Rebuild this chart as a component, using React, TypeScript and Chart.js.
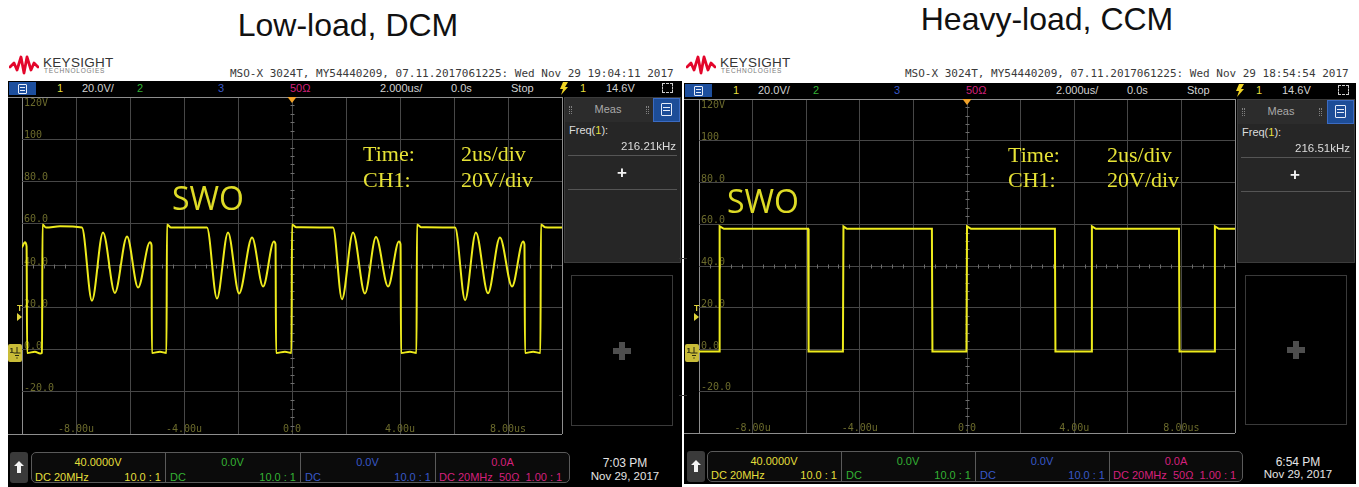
import React, { useEffect, useRef } from "react";
import { Chart, registerables } from "chart.js";

Chart.register(...registerables);

// ================= DATA =================
const timeTickValues = [-8, -4, 0, 4, 8];
const timeTickLabels = ["-8.00u", "-4.00u", "0.0", "4.00u", "8.00us"];
const voltTickValues = [120, 100, 80, 60, 40, 20, 0, -20];
const voltTickLabels = ["120V", "100", "80.0", "60.0", "40.0", "20.0", "0.0", "-20.0"];

// Low-load, DCM : SWO node, time in us, voltage in V
const dcmTimeUs = [
  -10.0, -9.89, -9.83, -9.81, -9.52, -9.33, -9.26, -9.24, -9.11, -8.59, -7.78,
  -7.41, -7.0, -6.56, -6.11, -5.7, -5.26, -5.2, -5.19, -4.89, -4.65, -4.63,
  -4.48, -3.15, -2.78, -2.37, -1.96, -1.48, -1.07, -0.67, -0.61, -0.59, -0.26,
  -0.02, 0.0, 0.15, 1.52, 1.85, 2.26, 2.7, 3.11, 3.56, 3.96, 4.02, 4.04, 4.37,
  4.61, 4.63, 4.78, 6.04, 6.41, 6.81, 7.26, 7.7, 8.15, 8.56, 8.61, 8.63, 8.93,
  9.2, 9.22, 9.37, 10.0,
];
const dcmVolts = [
  48.5, 51.0, 49.0, -1.5, -1.0, -1.8, -1.5, 59.5, 58.0, 58.6, 58.0,
  23.3, 55.7, 27.0, 53.8, 29.5, 51.0, 49.5, -1.5, -1.0, -1.5, 59.5,
  58.0, 58.0, 24.3, 55.7, 26.7, 53.3, 30.0, 51.4, 50.0, -1.5, -1.0,
  -1.5, 59.5, 58.2, 58.0, 24.0, 55.7, 26.7, 53.5, 30.0, 51.4, 50.0, -1.5, -1.0,
  -1.5, 59.5, 58.2, 58.0, 23.5, 55.7, 26.8, 53.3, 30.0, 51.4, 50.0, -1.5, -1.0,
  -1.5, 59.5, 58.2, 58.0,
];

// Heavy-load, CCM
const ccmTimeUs = [
  -10.0, -9.25, -9.23, -9.07, -5.93, -5.91, -4.63, -4.61, -4.48, -1.31, -1.29,
  -0.02, 0.0, 0.15, 3.28, 3.3, 4.64, 4.66, 4.81, 7.91, 7.93, 9.24, 9.25, 9.4, 10.0,
];
const ccmVolts = [
  -1.0, -1.0, 59.0, 57.8, 57.8, -1.0, -1.0, 59.0, 57.8, 57.8, -1.0,
  -1.0, 59.0, 57.8, 57.8, -1.0, -1.0, 59.0, 57.8, 57.8, -1.0, -1.0, 59.0, 57.8, 57.8,
];

// ================= STYLE HELPERS =================
const SANS = '"Liberation Sans", Arial, sans-serif';
const SERIF = '"Liberation Serif", "Times New Roman", serif';
const MONO = '"DejaVu Sans Mono", monospace';
const OPEN = '"Open Sans", sans-serif';
const KB: Record<string, number> = { sans: 0.8465, serif: 0.8375, mono: 0.846, open: 0.888 };
const FAM: Record<string, string> = { sans: SANS, serif: SERIF, mono: MONO, open: OPEN };

function Txt({ x, b, s, c = "#fff", f = "sans", a = "left", w = 400, ls, children }: any) {
  const tx = a === "center" ? "translateX(-50%)" : a === "right" ? "translateX(-100%)" : undefined;
  return (
    <div
      style={{
        position: "absolute",
        left: x,
        top: b - KB[f] * s,
        fontSize: s,
        lineHeight: `${s}px`,
        fontFamily: FAM[f],
        color: c,
        fontWeight: w,
        whiteSpace: "pre",
        transform: tx,
        letterSpacing: ls,
      }}
    >
      {children}
    </div>
  );
}

function Box({ x, y, w, h, st }: any) {
  return <div style={{ position: "absolute", left: x, top: y, width: w, height: h, boxSizing: "border-box", ...st }} />;
}

// ================= CHART =================
const scopeDecor = {
  id: "scopeDecor",
  beforeDatasetsDraw(chart: any) {
    const { ctx, chartArea: ca, scales } = chart;
    const xs = scales.x;
    const ys = scales.y;
    ctx.save();
    ctx.strokeStyle = "#6e6e6e";
    ctx.lineWidth = 1;
    const yc = Math.round(ys.getPixelForValue(40)) + 0.5;
    const xc = Math.round(xs.getPixelForValue(0)) + 0.5;
    ctx.beginPath();
    for (let k = -25; k <= 25; k++) {
      if (k % 5 === 0) continue;
      const px = Math.round(xs.getPixelForValue(k * 0.4)) + 0.5;
      ctx.moveTo(px, yc - 2);
      ctx.lineTo(px, yc + 2);
    }
    for (let k = -10; k <= 30; k++) {
      if (k % 5 === 0) continue;
      const py = Math.round(ys.getPixelForValue(k * 4)) + 0.5;
      ctx.moveTo(xc - 2, py);
      ctx.lineTo(xc + 2, py);
    }
    ctx.stroke();

    ctx.fillStyle = "#6c6b2c";
    ctx.font = '10px "DejaVu Sans Mono"';
    ctx.textAlign = "left";
    voltTickValues.forEach((v, i) => {
      const py = ys.getPixelForValue(v);
      if (v === ys.max) {
        ctx.textBaseline = "top";
        ctx.fillText(voltTickLabels[i], ca.left + 2, py + 1);
      } else {
        ctx.textBaseline = "alphabetic";
        ctx.fillText(voltTickLabels[i], ca.left + 2, py - 1);
      }
    });
    ctx.textAlign = "center";
    ctx.textBaseline = "alphabetic";
    timeTickValues.forEach((t, i) => {
      ctx.fillText(timeTickLabels[i], xs.getPixelForValue(t), ca.bottom - 2);
    });
    ctx.restore();
  },
  afterDraw(chart: any) {
    const { ctx, chartArea: ca, scales } = chart;
    const x0 = scales.x.getPixelForValue(0);
    ctx.save();
    ctx.fillStyle = "#f0a22a";
    ctx.beginPath();
    ctx.moveTo(x0 - 4.5, ca.top);
    ctx.lineTo(x0 + 4.5, ca.top);
    ctx.lineTo(x0, ca.top + 6);
    ctx.closePath();
    ctx.fill();
    ctx.restore();
  },
};

function ScopeChart({ g, times, volts, smooth }: any) {
  const ref = useRef<HTMLCanvasElement>(null);
  useEffect(() => {
    const edgeColor = (edges: number[]) => (c: any) =>
      c.tick && edges.includes(c.tick.value) ? "#8e8e8e" : "#474747";
    const chart = new Chart(ref.current as HTMLCanvasElement, {
      type: "line",
      data: {
        datasets: [
          {
            data: times.map((t: number, i: number) => ({ x: t, y: volts[i] })),
            borderColor: "#eeeb1c",
            borderWidth: 2,
            pointRadius: 0,
            tension: 0,
            cubicInterpolationMode: smooth ? "monotone" : "default",
            fill: false,
          } as any,
        ],
      },
      options: {
        responsive: false,
        animation: false,
        events: [],
        layout: { padding: 1 },
        plugins: { legend: { display: false }, tooltip: { enabled: false } },
        scales: {
          x: {
            type: "linear",
            min: -10,
            max: 10,
            ticks: { display: false, stepSize: 2 },
            grid: { color: edgeColor([-10, 10]), drawTicks: false, lineWidth: 1 },
            border: { display: false },
          },
          y: {
            type: "linear",
            min: -40,
            max: 120,
            ticks: { display: false, stepSize: 20 },
            grid: { color: edgeColor([-40, 120]), drawTicks: false, lineWidth: 1 },
            border: { display: false },
          },
        },
      },
      plugins: [scopeDecor],
    });
    return () => chart.destroy();
  }, []);
  return (
    <canvas
      ref={ref}
      width={g.w + 2}
      height={g.h + 2}
      style={{ position: "absolute", left: g.x - 1, top: g.y - 1, width: g.w + 2, height: g.h + 2, display: "block" }}
    />
  );
}

// ================= PANEL LAYOUT =================
const LEFT = {
  title: "Low-load, DCM",
  titleCx: 348,
  titleBase: 36,
  header: "MSO-X 3024T, MY54440209, 07.11.2017061225: Wed Nov 29 19:04:11 2017",
  headerX: 230,
  logoX: 9,
  scopeL: 8,
  scopeR: 682,
  barTop: 81,
  bodyBottom: 487,
  grid: { x: 22, y: 97, w: 540, h: 337 },
  meas: { x: 564, y: 97, w: 117, h: 166 },
  measBox: { x: 571, y: 275, w: 102, h: 151 },
  freq: "216.21kHz",
  botY: 452,
  arrowX: 10,
  secs: [31, 165, 300, 435, 570],
  clockCx: 625,
  clockTime: "7:03 PM",
  rowB1: 466,
  rowB2: 481,
  swo: { x: 172, b: 210 },
  timeX: 363,
  valX: 461,
  timeB: 161,
  chB: 187,
  mk: 8,
  times: dcmTimeUs,
  volts: dcmVolts,
  smooth: true,
};

const RIGHT = {
  title: "Heavy-load, CCM",
  titleCx: 1047,
  titleBase: 30,
  header: "MSO-X 3024T, MY54440209, 07.11.2017061225: Wed Nov 29 18:54:54 2017",
  headerX: 905,
  logoX: 686,
  scopeL: 684,
  scopeR: 1356,
  barTop: 83,
  bodyBottom: 484,
  grid: { x: 699, y: 99, w: 536, h: 334 },
  meas: { x: 1237, y: 99, w: 118, h: 164 },
  measBox: { x: 1245, y: 275, w: 102, h: 150 },
  freq: "216.51kHz",
  botY: 451,
  arrowX: 687,
  secs: [707, 841, 975, 1109, 1243],
  clockCx: 1298,
  clockTime: "6:54 PM",
  rowB1: 465,
  rowB2: 479,
  swo: { x: 727, b: 213 },
  timeX: 1008,
  valX: 1107,
  timeB: 162,
  chB: 187,
  mk: 685,
  times: ccmTimeUs,
  volts: ccmVolts,
  smooth: false,
};

const YEL = "#e4df3c";
const GRN = "#34b234";
const BLU = "#3858c8";
const MAG = "#d4207c";
const LIGHT = "#d2d2d2";

function Logo({ x }: any) {
  return (
    <>
      <svg style={{ position: "absolute", left: x, top: 55 }} width={30} height={20} viewBox="0 0 30 20">
        <polyline
          points="1,12 5,8 8,15 12,2 15,18 18,2 22,15 25,8 29,12"
          fill="none"
          stroke="#e3062b"
          strokeWidth={2.8}
          strokeLinejoin="round"
          strokeLinecap="round"
        />
      </svg>
      <Txt x={x + 34} b={67} s={13.5} c="#353535" ls={0.3}>KEYSIGHT</Txt>
      <Txt x={x + 35} b={73.5} s={6.5} c="#7a7a7a" ls={0.8}>TECHNOLOGIES</Txt>
    </>
  );
}

function Panel({ p }: any) {
  const L = p.scopeL;
  const bb = p.barTop + 11;
  const m = p.meas;
  const mb = p.measBox;
  const g = p.grid;
  const s = p.secs;
  const secCenter = (i: number) => (s[i] + s[i + 1]) / 2;
  const secColors = [YEL, GRN, BLU, MAG];
  const topTexts = ["40.0000V", "0.0V", "0.0V", "0.0A"];
  return (
    <>
      <Txt x={p.titleCx} b={p.titleBase} s={32} c="#111" a="center">{p.title}</Txt>
      <Logo x={p.logoX} />
      <Txt x={p.headerX} b={77} s={11} c="#3a3a3a" f="mono">{p.header}</Txt>

      {/* scope body */}
      <Box x={L} y={p.barTop} w={p.scopeR - L} h={p.bodyBottom - p.barTop} st={{ background: "#000" }} />

      {/* top status bar */}
      <Box x={L + 1} y={p.barTop + 1} w={27} h={13} st={{ background: "#1d4f9e" }} />
      <Box x={L + 10} y={p.barTop + 3} w={9} h={10} st={{ border: "1px solid #e8eefa", borderRadius: 1 }} />
      <Box x={L + 12} y={p.barTop + 6} w={5} h={1} st={{ background: "#e8eefa" }} />
      <Box x={L + 12} y={p.barTop + 9} w={5} h={1} st={{ background: "#e8eefa" }} />
      <Txt x={L + 49} b={bb} s={11} c={YEL}>1</Txt>
      <Txt x={L + 74} b={bb} s={11} c={LIGHT}>20.0V/</Txt>
      <Txt x={L + 129} b={bb} s={11} c={GRN}>2</Txt>
      <Txt x={L + 210} b={bb} s={11} c={BLU}>3</Txt>
      <Txt x={L + 282} b={bb} s={11} c={MAG}>50Ω</Txt>
      <Txt x={L + 372} b={bb} s={11} c={LIGHT}>2.000us/</Txt>
      <Txt x={L + 443} b={bb} s={11} c={LIGHT}>0.0s</Txt>
      <Txt x={L + 503} b={bb} s={11} c={LIGHT}>Stop</Txt>
      <svg style={{ position: "absolute", left: L + 551, top: p.barTop + 1 }} width={10} height={13} viewBox="0 0 10 13">
        <polygon points="4,0 9,0 6,5 9,5 2,13 4,7 1,7" fill="#f0d424" />
      </svg>
      <Txt x={L + 572} b={bb} s={11} c={YEL}>1</Txt>
      <Txt x={L + 598} b={bb} s={11} c={LIGHT}>14.6V</Txt>
      <Box x={L + 654} y={p.barTop + 2} w={11} h={10} st={{ border: "1px dashed #cfcfcf" }} />

      {/* grid edge extensions */}
      <Box x={L} y={g.y} w={g.x - L} h={1} st={{ background: "#8e8e8e" }} />
      <Box x={L} y={g.y + g.h} w={g.x - L} h={1} st={{ background: "#8e8e8e" }} />

      <ScopeChart g={g} times={p.times} volts={p.volts} smooth={p.smooth} />

      {/* overlay annotations */}
      <Txt x={p.swo.x} b={p.swo.b} s={32} c="#dedb26" f="open">SWO</Txt>
      <Txt x={p.timeX} b={p.timeB} s={22} c="#e6e236" f="serif">Time:</Txt>
      <Txt x={p.timeX} b={p.chB} s={22} c="#e6e236" f="serif">CH1:</Txt>
      <Txt x={p.valX} b={p.timeB} s={22} c="#e6e236" f="serif">2us/div</Txt>
      <Txt x={p.valX} b={p.chB} s={22} c="#e6e236" f="serif">20V/div</Txt>

      {/* left markers */}
      <Txt x={p.mk + 9} b={311} s={8.5} c="#e0d43a" w={700}>T</Txt>
      <svg style={{ position: "absolute", left: p.mk + 9, top: 313 }} width={5} height={8} viewBox="0 0 5 8">
        <polygon points="0,0 5,4 0,8" fill="#e0d43a" />
      </svg>
      <Box x={p.mk} y={344} w={14} h={18} st={{ background: "#c9bc38", borderRadius: 2 }} />
      <svg style={{ position: "absolute", left: p.mk, top: 344 }} width={14} height={18} viewBox="0 0 14 18">
        <text x={1.5} y={9} fontSize={8} fontFamily="Liberation Sans" fill="#2a2a10" fontWeight={700}>1</text>
        <path d="M9 3 V9 M5.5 9 H12.5 M7 11.5 H11 M8.3 14 H9.7" stroke="#2a2a10" strokeWidth={1} fill="none" />
      </svg>

      {/* measurement panel */}
      <Box x={m.x} y={m.y} w={m.w} h={m.h} st={{ background: "#262626", border: "1px solid #3c3c3c" }} />
      <Box x={m.x + 1} y={m.y + 1} w={m.w - 2} h={24} st={{ background: "#2c2c2c" }} />
      <Box x={m.x + 5} y={m.y + 9} w={3} h={8} st={{ borderLeft: "1px dotted #808080", borderRight: "1px dotted #808080" }} />
      <Box x={m.x + 82} y={m.y + 9} w={3} h={8} st={{ borderLeft: "1px dotted #808080", borderRight: "1px dotted #808080" }} />
      <Txt x={m.x + 44} b={m.y + 16} s={11} c="#a9a9a9" a="center">Meas</Txt>
      <Box x={m.x + m.w - 28} y={m.y + 1} w={27} h={24} st={{ background: "#1d4d98", border: "1px solid #3b6bc2" }} />
      <Box x={m.x + m.w - 20} y={m.y + 6} w={11} h={13} st={{ border: "1px solid #e6ecf8", borderRadius: 1 }} />
      <Box x={m.x + m.w - 18} y={m.y + 10} w={7} h={1} st={{ background: "#e6ecf8" }} />
      <Box x={m.x + m.w - 18} y={m.y + 13} w={7} h={1} st={{ background: "#e6ecf8" }} />
      <Txt x={m.x + 5} b={m.y + 37} s={11} c="#dcdcdc">
        Freq(<span style={{ color: YEL }}>1</span>):
      </Txt>
      <Txt x={m.x + m.w - 5} b={m.y + 54} s={11.5} c="#dcdcdc" a="right">{p.freq}</Txt>
      <Box x={m.x + 4} y={m.y + 58} w={m.w - 8} h={1} st={{ background: "#555" }} />
      <Txt x={m.x + 58} b={m.y + 81} s={17} c="#f2f2f2" a="center" w={700}>+</Txt>
      <Box x={m.x + 4} y={m.y + 92} w={m.w - 8} h={1} st={{ background: "#555" }} />

      <Box x={mb.x} y={mb.y} w={mb.w} h={mb.h} st={{ border: "1px solid #3a3a3a" }} />
      <Box x={mb.x + mb.w / 2 - 9} y={mb.y + mb.h / 2 - 3} w={18} h={6} st={{ background: "#4e4e4e" }} />
      <Box x={mb.x + mb.w / 2 - 3} y={mb.y + mb.h / 2 - 9} w={6} h={18} st={{ background: "#4e4e4e" }} />

      {/* bottom channel bar */}
      <Box x={p.arrowX} y={p.botY} w={18} h={31} st={{ background: "#3a3a3a", borderRadius: 3 }} />
      <svg style={{ position: "absolute", left: p.arrowX + 4, top: p.botY + 9 }} width={10} height={12} viewBox="0 0 10 12">
        <polygon points="5,0 10,5 7,5 7,12 3,12 3,5 0,5" fill="#f4f4f4" />
      </svg>
      <Box x={s[0]} y={p.botY} w={s[4] - s[0]} h={31} st={{ border: "1px solid #5a5a5a", borderRadius: 5, background: "#0b0b0b" }} />
      {[1, 2, 3].map((i) => (
        <Box key={i} x={s[i]} y={p.botY} w={1} h={31} st={{ background: "#5a5a5a" }} />
      ))}
      {topTexts.map((t, i) => (
        <Txt key={"t" + i} x={secCenter(i)} b={p.rowB1} s={11} c={secColors[i]} a="center">{t}</Txt>
      ))}
      <Txt x={s[0] + 4} b={p.rowB2} s={11} c={YEL}>DC 20MHz</Txt>
      <Txt x={s[1] - 4} b={p.rowB2} s={11} c={YEL} a="right">10.0 : 1</Txt>
      <Txt x={s[1] + 5} b={p.rowB2} s={11} c={GRN}>DC</Txt>
      <Txt x={s[2] - 4} b={p.rowB2} s={11} c={GRN} a="right">10.0 : 1</Txt>
      <Txt x={s[2] + 5} b={p.rowB2} s={11} c={BLU}>DC</Txt>
      <Txt x={s[3] - 4} b={p.rowB2} s={11} c={BLU} a="right">10.0 : 1</Txt>
      <Txt x={s[3] + 4} b={p.rowB2} s={11} c={MAG}>DC 20MHz  50Ω  1.00 : 1</Txt>
      <Txt x={p.clockCx} b={p.rowB1 + 1} s={12} c="#e4e4e4" a="center">{p.clockTime}</Txt>
      <Txt x={p.clockCx} b={p.rowB2} s={11.5} c="#e4e4e4" a="center">Nov 29, 2017</Txt>
    </>
  );
}

export default function App() {
  return (
    <div
      style={{
        position: "fixed",
        left: 0,
        top: 0,
        width: 1359,
        height: 487,
        background: "#fff",
        overflow: "hidden",
        fontFamily: SANS,
      }}
    >
      <Panel p={LEFT} />
      <Panel p={RIGHT} />
      <Box x={679} y={258} w={8} h={1} st={{ background: "#333" }} />
      <Box x={679} y={395} w={8} h={1} st={{ background: "#333" }} />
    </div>
  );
}
